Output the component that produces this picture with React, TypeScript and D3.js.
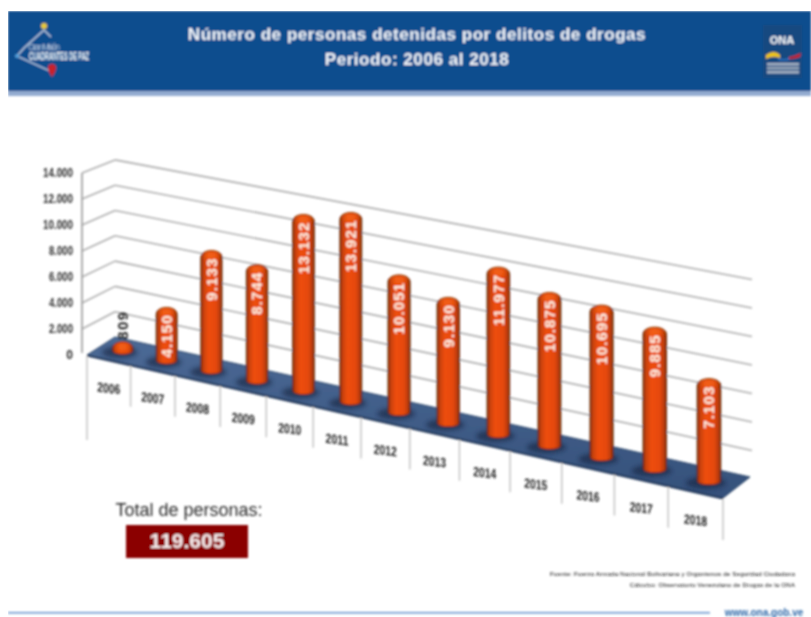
import * as d3 from 'd3';

const years = ['2006', '2007', '2008', '2009', '2010', '2011', '2012', '2013', '2014', '2015', '2016', '2017', '2018'];
const detained = [809, 4150, 9133, 8744, 13132, 13921, 10051, 9130, 11977, 10875, 10695, 9885, 7103];
const valueLabels = ['809', '4.150', '9.133', '8.744', '13.132', '13.921', '10.051', '9.130', '11.977', '10.875', '10.695', '9.885', '7.103'];
const yTicks = [0, 2000, 4000, 6000, 8000, 10000, 12000, 14000];
const yTickLabels = ['0', '2.000', '4.000', '6.000', '8.000', '10.000', '12.000', '14.000'];
const titleLines = ['Número de personas detenidas por delitos de drogas', 'Periodo: 2006 al 2018'];
const sourceLines = [
  'Fuente: Fuerza Armada Nacional Bolivariana y Organismos de Seguridad Ciudadana',
  'Cálculos: Observatorio Venezolano de Drogas de la ONA',
];
const totalLabel = 'Total de personas:';
const totalValue = '119.605';

const SANS = '"Liberation Sans", Arial, sans-serif';

// floor corners of the fake 3D box
const front = { x0: 87, y0: 355, x1: 723, y1: 498 };
const back = { x0: 115, y0: 337, x1: 750, y1: 477 };

const slot = d3.scaleBand<string>().domain(years).range([0, years.length]);
// x spacing grows to the right, the chart is in perspective
const perspective = (t: number) => (42.43 * t + 87) / (1 - 0.00898 * t);
const along = d3.scaleLinear().domain([front.x0, front.x1]).range([0, 1]);
const level = d3.scaleLinear().domain([0, 14000]).range([0, 7]);

const frontPoint = (t: number) => {
  const f = along(perspective(t));
  return { f, x: d3.interpolateNumber(front.x0, front.x1)(f), y: d3.interpolateNumber(front.y0, front.y1)(f) };
};
const backPoint = (f: number) => ({
  x: d3.interpolateNumber(back.x0, back.x1)(f),
  y: d3.interpolateNumber(back.y0, back.y1)(f),
});

function cylinderPath(cx: number, r: number, top: number, base: number) {
  const capRy = 7;
  const baseRy = 4;
  const path = d3.path();
  path.moveTo(cx - r, top + capRy);
  path.bezierCurveTo(cx - r, top - capRy / 3, cx + r, top - capRy / 3, cx + r, top + capRy);
  path.lineTo(cx + r, base);
  path.bezierCurveTo(cx + r, base + (baseRy * 4) / 3, cx - r, base + (baseRy * 4) / 3, cx - r, base);
  path.closePath();
  return path.toString();
}

function Wall() {
  const lines = yTicks.filter((v) => v > 0);
  const leftFront = 82;
  return (
    <g fill="none" stroke="#aeaeae" strokeWidth={1.6}>
      {lines.map((v) => {
        const k = level(v);
        const yFront = front.y0 - 26 * k;
        const yBackL = back.y0 - 25.3 * k;
        const yBackR = back.y1 + 2 - 28.5 * k;
        return (
          <g key={v}>
            <line x1={leftFront} y1={yFront} x2={back.x0} y2={yBackL} />
            <line x1={back.x0} y1={yBackL} x2={752} y2={yBackR} />
          </g>
        );
      })}
      <line x1={leftFront} y1={front.y0 - 26 * 7} x2={leftFront} y2={front.y0 - 2} stroke="#999" />
    </g>
  );
}

function YAxis() {
  return (
    <g fontFamily={SANS} fontSize={12} fontWeight={700} fill="#2e2e2e" textAnchor="end">
      {yTicks.map((v, i) => (
        <text key={v} x={73} y={front.y0 - 26 * level(v) + 4} textLength={i === 0 ? undefined : yTickLabels[i].length > 5 ? 30 : 24} lengthAdjust="spacingAndGlyphs">
          {yTickLabels[i]}
        </text>
      ))}
    </g>
  );
}

function Floor() {
  const pts = [
    [front.x0, front.y0],
    [back.x0, back.y0],
    [back.x1, back.y1],
    [front.x1, front.y1],
  ];
  return (
    <g>
      <path d={d3.line()(pts as [number, number][]) + 'Z'} fill="url(#floorFill)" stroke="#2b4466" strokeWidth={1} />
      <line x1={front.x0} y1={front.y0 + 0.5} x2={front.x1} y2={front.y1 + 0.5} stroke="#22385a" strokeWidth={2} />
    </g>
  );
}

function CategoryAxis() {
  const edges = d3.range(years.length + 1);
  return (
    <g>
      {edges.map((t) => {
        const p = frontPoint(t);
        const len = t === 0 ? 85 : 42;
        return <line key={t} x1={p.x} y1={p.y + 1} x2={p.x} y2={p.y + len} stroke="#c0c0c0" strokeWidth={1.4} />;
      })}
      {years.map((year) => {
        const t = slot(year)! + slot.bandwidth() / 2;
        const p = frontPoint(t);
        return (
          <text
            key={year}
            transform={`translate(${p.x},${p.y + 33}) skewY(7)`}
            textAnchor="middle"
            fontFamily={SANS}
            fontSize={13.5}
            fontWeight={700}
            fill="#222"
            textLength={23}
            lengthAdjust="spacingAndGlyphs"
          >
            {year}
          </text>
        );
      })}
    </g>
  );
}

function Cylinders() {
  return (
    <g>
      {years.map((year, i) => {
        const t = slot(year)! + slot.bandwidth() / 2;
        const fp = frontPoint(t);
        const bp = backPoint(fp.f);
        const cx = (fp.x + bp.x) / 2;
        const base = (fp.y + bp.y) / 2 - 0.5;
        const r = 10.3 + 1.6 * fp.f;
        const perLevel = 26 + 3.5 * fp.f;
        const top = base + 2 - level(detained[i]) * perLevel;
        return (
          <g key={year}>
            <ellipse cx={cx - 3} cy={base + 2} rx={r * 1.7} ry={6} fill="#14233c" opacity={0.6} filter="url(#soft)" />
            <path d={cylinderPath(cx, r, top, base)} fill="url(#barFill)" stroke="#5b2106" strokeWidth={0.9} />
            <ellipse cx={cx} cy={top + 5} rx={r * 0.6} ry={3} fill="#f56a1c" opacity={0.8} filter="url(#soft)" />
            {i === 0 ? (
              <text
                transform={`translate(${cx},${top - 2}) rotate(-90)`}
                dy="0.36em"
                fontFamily={SANS}
                fontSize={15}
                fontWeight={700}
                letterSpacing={1.4}
                fill="#222"
              >
                {valueLabels[i]}
              </text>
            ) : (
              <text
                transform={`translate(${cx},${top + 7}) rotate(-90)`}
                dy="0.36em"
                textAnchor="end"
                fontFamily={SANS}
                fontSize={15}
                fontWeight={700}
                letterSpacing={1.1}
                fill="#fff4ea"
              >
                {valueLabels[i]}
              </text>
            )}
          </g>
        );
      })}
    </g>
  );
}

function Header() {
  return (
    <g>
      <rect x={8} y={11} width={803} height={80} fill="#0e4d8e" />
      <rect x={8} y={91} width={803} height={5} fill="#93abd0" />
      {titleLines.map((line, i) => (
        <text
          key={line}
          x={417}
          y={40 + i * 25}
          textAnchor="middle"
          fontFamily={SANS}
          fontSize={17}
          fontWeight={700}
          letterSpacing={0.55}
          fill="#f2f5fa"
        >
          {line}
        </text>
      ))}
      {/* left logo */}
      <path d="M44 30L51 37M44 30L24 48L17 56L52 72" fill="none" stroke="#c9d6e8" strokeWidth={1.2} />
      <circle cx={44} cy={26} r={3} fill="#e8c93a" />
      <circle cx={17} cy={56} r={2} fill="#4f9fdc" />
      <path d="M48 68a4 4 0 0 1 8 0q0 3-4 9q-4-6-4-9Z" fill="#c8202c" />
      <text x={28} y={50} fontFamily={SANS} fontSize={9} fill="#b9c8de" textLength={32}>Gran Misión</text>
      <text x={29} y={60} fontFamily={SANS} fontSize={10} fontWeight={700} fill="#fff" textLength={60} lengthAdjust="spacingAndGlyphs">CUADRANTES DE PAZ</text>
      {/* right logo */}
      <rect x={763} y={25} width={39} height={53} fill="#184a80" />
      <text x={782} y={44} textAnchor="middle" fontFamily={SANS} fontSize={11} fontWeight={700} fill="#fff">ONA</text>
      <path d="M766 55q8-6 14 0l0 3q-7-3-14 1Z" fill="#f0c419" />
      <path d="M778 58q6 2 11 0l0 2q-6 1-11 0Z" fill="#2f6fc0" />
      <path d="M789 57q6-1 12-4l-1 4q-5 2-11 2Z" fill="#c8202c" />
      <rect x={767} y={63} width={32} height={2.5} fill="#a8b4c4" />
      <rect x={767} y={67} width={32} height={2.5} fill="#9aa8ba" />
      <rect x={767} y={71} width={32} height={2.5} fill="#a8b4c4" />
    </g>
  );
}

function Footer() {
  return (
    <g fontFamily={SANS}>
      <text x={189} y={516} textAnchor="middle" fontSize={18} fill="#2b2b2b">{totalLabel}</text>
      <rect x={126} y={525} width={122} height={33} fill="#8b0000" />
      <text x={187} y={548} textAnchor="middle" fontSize={21} fontWeight={700} fill="#f7eeee">{totalValue}</text>
      {sourceLines.map((line, i) => (
        <text key={line} x={795} y={576 + i * 10.5} textAnchor="end" fontSize={6.2} fill="#111" letterSpacing={0.15}>
          {line}
        </text>
      ))}
      <rect x={8} y={612} width={702} height={1.5} fill="#5f8fcb" />
      <text x={764} y={616} textAnchor="middle" fontSize={10} fontWeight={700} fill="#2f68a8">www.ona.gob.ve</text>
    </g>
  );
}

export default function App() {
  return (
    <svg width={811} height={617} style={{ position: 'absolute', left: 0, top: 0, display: 'block', background: '#fff' }}>
      <defs>
        <linearGradient id="barFill" x1="0" x2="1" y1="0" y2="0">
          <stop offset="0" stopColor="#6b2506" />
          <stop offset="0.1" stopColor="#c23f08" />
          <stop offset="0.35" stopColor="#ee4e0b" />
          <stop offset="0.72" stopColor="#e5480a" />
          <stop offset="0.92" stopColor="#b53a07" />
          <stop offset="1" stopColor="#5e2005" />
        </linearGradient>
        <linearGradient id="floorFill" x1="0" x2="0" y1="0" y2="1">
          <stop offset="0" stopColor="#4c6a96" />
          <stop offset="1" stopColor="#34507a" />
        </linearGradient>
        <filter id="soft" x="-30%" y="-60%" width="160%" height="220%">
          <feGaussianBlur stdDeviation="2" />
        </filter>
        <filter id="photo" x="0" y="0" width="100%" height="100%">
          <feGaussianBlur stdDeviation="0.8" />
        </filter>
      </defs>
      <g filter="url(#photo)">
        <Header />
        <Wall />
        <YAxis />
        <Floor />
        <CategoryAxis />
        <Cylinders />
        <Footer />
      </g>
    </svg>
  );
}
